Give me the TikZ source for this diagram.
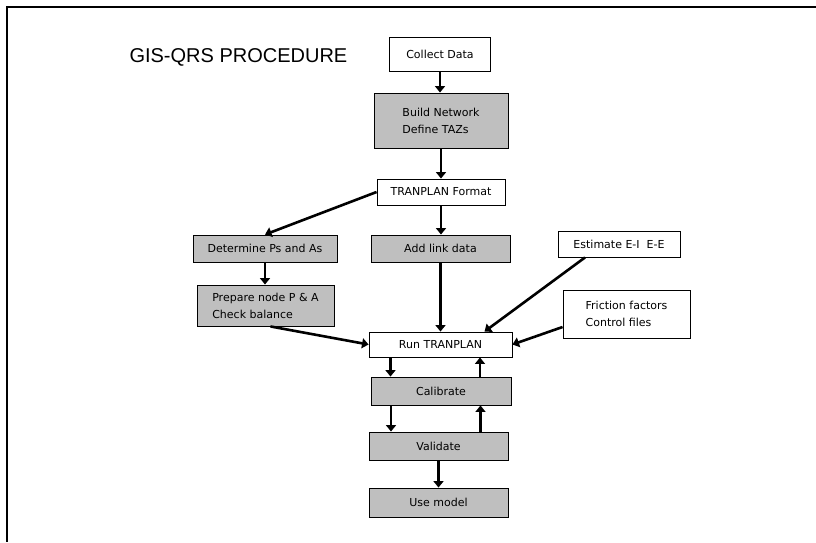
\documentclass[tikz,border=0pt]{standalone}
\usepackage{fontspec}
\setmainfont{DejaVu Sans}
\newfontfamily\titlefont{Liberation Sans}
\usetikzlibrary{arrows.meta}

\begin{document}
\begin{tikzpicture}[x=1pt,y=-1pt,
    box/.style={draw,line width=0.9pt,inner sep=0pt,align=left,
        font=\fontsize{11}{17}\selectfont},
    greybox/.style={box,fill=black!25},
    arr/.style={line width=2.6pt,-{Triangle[length=6.5pt,width=10pt]}}]
    \useasboundingbox (0,0) rectangle (816,542);
    \draw[line width=1.6pt] (816,7) -- (7,7) -- (7,542);

    \node[anchor=west,font=\titlefont\fontsize{20}{24}\selectfont] (title) at (126,57) {GIS-QRS PROCEDURE};

    \node[box,minimum width=101,minimum height=34] (collect) at (440,54) {Collect Data};
    \node[greybox,minimum width=134,minimum height=55] (build) at (441,120.5) {Build Network\\Define TAZs};
    \node[box,minimum width=128,minimum height=26] (format) at (441,192) {TRANPLAN Format};
    \node[greybox,minimum width=144,minimum height=27] (determine) at (265,248.5) {Determine Ps and As};
    \node[greybox,minimum width=139,minimum height=27] (addlink) at (440.5,248.5) {Add link data};
    \node[box,minimum width=122,minimum height=26] (estimate) at (619,244) {Estimate E-I\ \ E-E};
    \node[greybox,minimum width=137,minimum height=41] (prepare) at (265.5,305.5) {Prepare node P \& A\\Check balance};
    \node[box,minimum width=127,minimum height=48] (friction) at (626.5,314) {Friction factors\\Control files};
    \node[box,minimum width=143,minimum height=25] (run) at (440.5,344.5) {Run TRANPLAN};
    \node[greybox,minimum width=140,minimum height=28] (calibrate) at (441,391) {Calibrate};
    \node[greybox,minimum width=139,minimum height=28] (validate) at (438.5,446) {Validate};
    \node[greybox,minimum width=139,minimum height=29] (usemodel) at (438.5,502.5) {Use model};

    \path[arr] (collect) edge (collect |- build.north);
    \path[arr] (build) edge (build |- format.north);
    \path[arr] (format.west) edge (determine.north);
    \path[arr] (format) edge (format |- addlink.north);
    \path[arr] (determine) edge (determine |- prepare.north);
    \path[arr] (addlink) edge (addlink |- run.north);
    \path[arr] ([xshift=5pt]prepare.south) edge (run.west);
    \path[arr] ([xshift=-34pt]estimate.south) edge ([xshift=44pt]run.north);
    \path[arr] ([yshift=-13pt]friction.west) edge (run.east);
    \path[arr] ([xshift=-50pt]run.south) edge ([xshift=-50pt]run.south |- calibrate.north);
    \path[arr] ([xshift=39pt]calibrate.north) edge ([xshift=39pt]calibrate.north |- run.south);
    \path[arr] ([xshift=-50pt]calibrate.south) edge ([xshift=-50pt]calibrate.south |- validate.north);
    \path[arr] ([xshift=42pt]validate.north) edge ([xshift=42pt]validate.north |- calibrate.south);
    \path[arr] (validate) edge (validate |- usemodel.north);
\end{tikzpicture}
\end{document}
